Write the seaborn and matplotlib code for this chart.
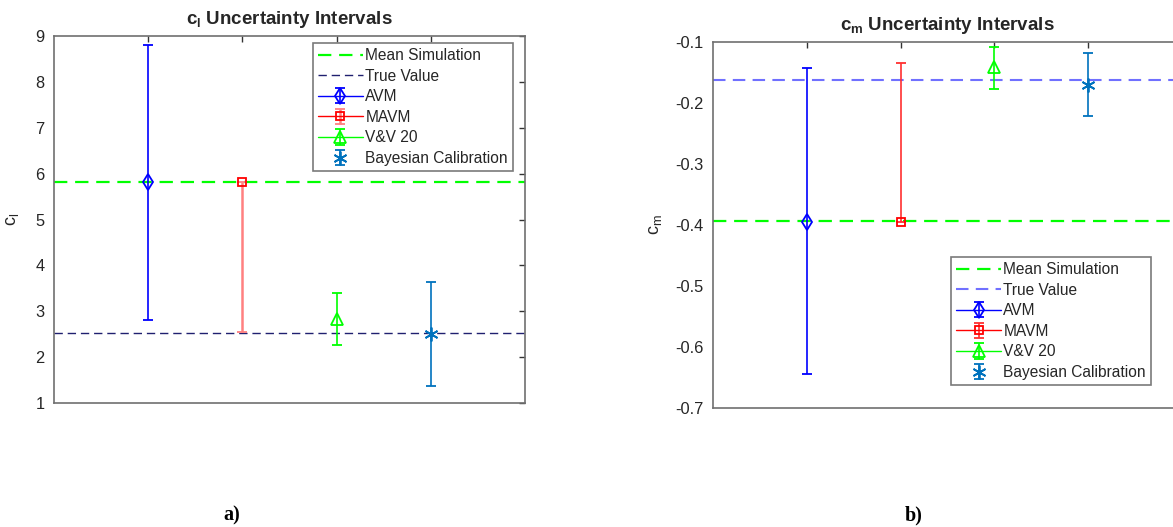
import matplotlib
matplotlib.use("Agg")
import matplotlib.pyplot as plt
import seaborn as sns
import numpy as np

# ---------------- data ----------------
methods = ["AVM", "MAVM", "V&V 20", "Bayesian Calibration"]
positions = [1, 2, 3, 4]

cl_center = [5.82, 5.82, 2.84, 2.51]
cl_lower = [2.82, 2.55, 2.27, 1.36]
cl_upper = [8.80, 5.82, 3.39, 3.64]
cl_mean_sim = 5.82
cl_true = 2.53

cm_center = [-0.395, -0.395, -0.141, -0.170]
cm_lower = [-0.645, -0.395, -0.1765, -0.2215]
cm_upper = [-0.143, -0.134, -0.1085, -0.1185]
cm_mean_sim = -0.394
cm_true = -0.162

cl_yticks = [1, 2, 3, 4, 5, 6, 7, 8, 9]
cm_yticks = [-0.7, -0.6, -0.5, -0.4, -0.3, -0.2, -0.1]

# ---------------- style ----------------
sns.set_theme(style="white")
plt.rcParams['font.family'] = ['Liberation Sans', 'DejaVu Sans']
plt.rcParams['mathtext.fontset'] = 'custom'
plt.rcParams['mathtext.rm'] = 'Liberation Sans'
plt.rcParams['mathtext.it'] = 'Liberation Sans'
plt.rcParams['mathtext.bf'] = 'Liberation Sans:bold'
plt.rcParams['mathtext.default'] = 'rm'

colors = ["#0000ff", "#ff0000", "#00ff00", "#0072bd"]
markers = ["d", "s", "^", (6, 2, 0)]
msizes = [8.5, 6, 8.5, 10]
linestyles = ["-", "-", "-", "none"]

fig = plt.figure(figsize=(11.73, 5.27), dpi=100)
ax1 = fig.add_axes([54 / 1173, 1 - 403 / 527, 471 / 1173, 367 / 527])
ax2 = fig.add_axes([713 / 1173, 1 - 408 / 527, 469 / 1173, 366 / 527])

spine_col = "#707070"
text_col = "#262626"


def draw(ax, center, lower, upper, mean_sim, true_val, true_col, true_lw,
         mavm_ecol, mavm_elw, yticks, ylim, ylabel, title, legend_loc,
         legend_anchor, ylabelpad):
    ax.axhline(mean_sim, color="#00ff00", ls=(0, (6, 3.5)), lw=1.6,
               label="Mean Simulation")
    ax.axhline(true_val, color=true_col, ls=(0, (6, 3.5)), lw=true_lw,
               label="True Value")
    for i, m in enumerate(methods):
        c = np.array([center[i]])
        err = np.array([[center[i] - lower[i]], [upper[i] - center[i]]])
        ecol = mavm_ecol if m == "MAVM" else colors[i]
        elw = mavm_elw if m == "MAVM" else 1.2
        ax.errorbar([positions[i]], c, yerr=err, color=colors[i],
                    ecolor=ecol, linestyle=linestyles[i], lw=1.0,
                    elinewidth=elw, capsize=3.4, capthick=2.0,
                    marker=markers[i], markersize=msizes[i],
                    markerfacecolor="none", markeredgecolor=colors[i],
                    markeredgewidth=1.3, label=m)
    ax.set_xlim(0, 5)
    ax.set_ylim(*ylim)
    ax.set_xticks(positions)
    ax.set_xticklabels([])
    ax.set_yticks(yticks)
    ax.set_yticklabels([("%g" % v) for v in yticks])
    ax.tick_params(axis="both", which="both", direction="in", length=4,
                   width=1, color="#333333", top=True, right=True,
                   labelsize=11.8, labelcolor=text_col, pad=7)
    for s in ax.spines.values():
        s.set_color(spine_col)
        s.set_linewidth(1.2)
    ax.set_ylabel(ylabel, fontsize=13, color=text_col, labelpad=ylabelpad)
    ax.set_title(title, fontsize=13.5, fontweight="bold", color=text_col,
                 pad=9)
    leg = ax.legend(loc=legend_loc, bbox_to_anchor=legend_anchor,
                    borderaxespad=0, fancybox=False, framealpha=1,
                    edgecolor="#7a7a7a", fontsize=11.2, handlelength=2.9,
                    labelspacing=0.36, handletextpad=0.15, borderpad=0.32)
    leg.get_frame().set_linewidth(1.2)
    for t in leg.get_texts():
        t.set_color(text_col)


draw(ax1, cl_center, cl_lower, cl_upper, cl_mean_sim, cl_true,
     "#202070", 1.0, "#ff8080", 1.8, cl_yticks, (1, 9),
     r"$\mathregular{c_l}$", r"$\mathbf{c_l}$ Uncertainty Intervals",
     "upper right", (0.9745, 0.981), 10)

draw(ax2, cm_center, cm_lower, cm_upper, cm_mean_sim, cm_true,
     "#7070ff", 1.5, "#ff3030", 1.2, cm_yticks, (-0.7, -0.1),
     r"$\mathregular{c_m}$", r"$\mathbf{c_m}$ Uncertainty Intervals",
     "lower right", (0.934, 0.063), 8)

fig.text(232 / 1173, 1 - 515 / 527, "a)", ha="center", va="center",
         fontsize=14.5, fontweight="bold", family="Liberation Serif",
         color="black")
fig.text(914 / 1173, 1 - 515 / 527, "b)", ha="center", va="center",
         fontsize=14.5, fontweight="bold", family="Liberation Serif",
         color="black")

fig.savefig("out.png", dpi=100, facecolor="white")
